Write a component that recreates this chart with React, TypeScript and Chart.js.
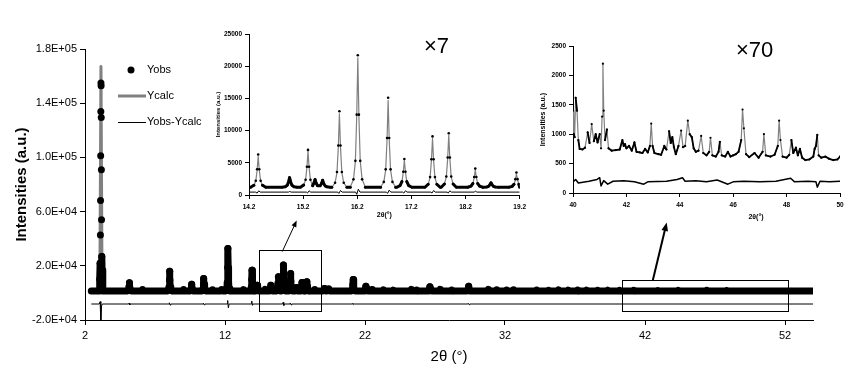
import { useEffect, useRef } from 'react';
import { Chart, registerables } from 'chart.js';

Chart.register(...registerables);

const FONT = "'Liberation Sans', Arial, Helvetica, sans-serif";
const GRAY = '#808080';
const HIDDEN = 'rgba(0,0,0,0)';

// ================= MAIN PATTERN =================
const mainXTicks = [2, 12, 22, 32, 42, 52];
const mainXTickLabels = ['2', '12', '22', '32', '42', '52'];
const mainYTicks = [-20000, 20000, 60000, 100000, 140000, 180000];
const mainYTickLabels = ['-2.0E+04', '2.0E+04', '6.0E+04', '1.0E+05', '1.4E+05', '1.8E+05'];
const mainXRange = [2, 54];
const mainYRange = [-20000, 180000];
const mainDataSpan = [2.45, 54.05];
const mainBaseline = 1400;

const mainPeakPos = [5.17, 6.1, 8.05, 9.02, 9.62, 10.48, 11.1, 11.76, 12.21, 13.3, 13.93, 14.3, 14.86, 15.28, 15.47, 15.81, 16.17, 16.69, 17.1, 17.5, 17.85, 18.4, 19.1, 19.4, 21.16, 22.07, 22.5, 23.3, 24.0, 25.3, 25.7, 26.64, 27.36, 28.2, 29.4, 30.8, 31.4, 32.1, 32.6, 34.26, 35.1, 35.8, 36.5, 37.2, 37.8, 38.6, 39.3, 40.2, 41.2, 42.9, 44.36, 46.4, 47.8];
const mainPeakObs = [7500, 2600, 16000, 2600, 6400, 10700, 2400, 2600, 32800, 2400, 16800, 5700, 2600, 5700, 2500, 11900, 20500, 14400, 4000, 7700, 8200, 2600, 3200, 3000, 9900, 5000, 2500, 2200, 2000, 2600, 2200, 4500, 2600, 2200, 5000, 2600, 2300, 2100, 2300, 2200, 2000, 2100, 2000, 2100, 2000, 2000, 1900, 1900, 2000, 1800, 1800, 1900, 1800];

// the strong low-angle reflection: individual observed points and calculated profile
const mainBigPeakObs = [[3.0, 1400], [3.05, 10100], [3.08, 21900], [3.1, 42800], [3.11, 68100], [3.12, 101200], [3.13, 133900], [3.14, 154900], [3.15, 152900], [3.16, 129500], [3.17, 90800], [3.18, 53900], [3.2, 26800], [3.22, 16900], [3.27, 1400]];
const mainBigPeakCalc = [[3.0, 1400], [3.07, 20000], [3.14, 167000], [3.21, 20000], [3.28, 1400]];

// difference curve (Yobs - Ycalc, shifted)
const mainDiff = [[2.45, -8200], [3.02, -8200], [3.08, -6400], [3.13, -21500], [3.18, -9600], [3.24, -8200],
  [5.12, -8200], [5.15, -7500], [5.2, -8900], [5.25, -8200],
  [8.0, -8200], [8.03, -7300], [8.08, -9000], [8.13, -8200],
  [10.43, -8200], [10.46, -7600], [10.51, -8800], [10.56, -8200],
  [12.16, -8200], [12.19, -5600], [12.24, -11000], [12.29, -8200],
  [13.88, -8200], [13.91, -6000], [13.96, -9200], [14.01, -8200],
  [16.12, -8200], [16.15, -7000], [16.2, -9300], [16.25, -8200],
  [16.64, -8200], [16.67, -7500], [16.72, -8900], [16.77, -8200],
  [21.11, -8200], [21.14, -7600], [21.19, -8700], [21.24, -8200],
  [29.35, -8200], [29.38, -7700], [29.43, -8700], [29.48, -8200],
  [54.05, -8200]];

// zoom boxes and arrows in data coordinates
const zoomBoxes = [
  { x: [14.4, 18.85], y: [-13400, 31700] },
  { x: [40.38, 52.24], y: [-13400, 9550] },
];
const zoomArrows = [
  { from: [16.09, 30500], to: [17.12, 53400], width: 1, head: 7 },
  { from: [42.55, 9000], to: [43.55, 51900], width: 2, head: 9 },
];

// ================= INSET 1 (14.2–19.2°) =================
const inset1XTicks = [14.2, 15.2, 16.2, 17.2, 18.2, 19.2];
const inset1XTickLabels = ['14.2', '15.2', '16.2', '17.2', '18.2', '19.2'];
const inset1YTicks = [0, 5000, 10000, 15000, 20000, 25000];
const inset1YTickLabels = ['0', '5000', '10000', '15000', '20000', '25000'];
const inset1Baseline = 1200;
const inset1Pos = [14.37, 14.95, 15.29, 15.42, 15.56, 15.87, 16.21, 16.77, 17.07, 17.59, 17.89, 18.38, 18.67, 19.14];
const inset1Obs = [6300, 2700, 7000, 2400, 2300, 13000, 21700, 15100, 5600, 9100, 9600, 4100, 1900, 3500];
const inset1Calc = [6000, 2600, 6800, 2300, 2200, 12600, 21300, 14700, 5400, 8800, 9300, 3900, 1800, 3300];
const inset1Diff = [[14.2, 450], [14.32, 450], [14.35, 300], [14.38, 650], [14.41, 450], [14.93, 450], [14.95, 550], [14.98, 450],
  [15.26, 450], [15.28, 300], [15.31, 650], [15.34, 450], [15.84, 450], [15.86, 250], [15.89, 700], [15.92, 450],
  [16.17, 450], [16.19, 100], [16.22, 900], [16.25, 450], [16.74, 450], [16.76, 250], [16.79, 750], [16.82, 450],
  [17.04, 450], [17.06, 300], [17.09, 650], [17.12, 450], [17.56, 450], [17.58, 300], [17.61, 700], [17.64, 450],
  [17.86, 450], [17.88, 300], [17.91, 650], [17.94, 450], [18.36, 450], [18.38, 600], [18.41, 450], [19.2, 450]];

// ================= INSET 2 (40–50°) =================
const inset2XTicks = [40, 42, 44, 46, 48, 50];
const inset2XTickLabels = ['40', '42', '44', '46', '48', '50'];
const inset2YTicks = [0, 500, 1000, 1500, 2000, 2500];
const inset2YTickLabels = ['0', '500', '1000', '1500', '2000', '2500'];
const inset2Obs = [[40.0, 1400], [40.03, 1000], [40.06, 950], [40.1, 1620], [40.15, 1400], [40.2, 900], [40.25, 750], [40.35, 740], [40.45, 770], [40.55, 1030], [40.62, 850], [40.7, 1170], [40.78, 880], [40.85, 1000], [40.92, 860], [41.0, 1000], [41.05, 760], [41.09, 1300], [41.12, 2200], [41.15, 1400], [41.2, 900], [41.27, 1080], [41.33, 760], [41.45, 720], [41.6, 730], [41.75, 740], [41.85, 900], [41.9, 800], [41.95, 830], [42.0, 760], [42.1, 800], [42.2, 720], [42.3, 860], [42.38, 700], [42.5, 690], [42.6, 680], [42.7, 750], [42.8, 690], [42.88, 800], [42.93, 1180], [42.98, 800], [43.05, 680], [43.2, 660], [43.3, 650], [43.42, 800], [43.5, 740], [43.6, 1050], [43.66, 850], [43.72, 950], [43.78, 780], [43.85, 660], [43.95, 800], [44.05, 1060], [44.12, 780], [44.2, 800], [44.3, 1230], [44.37, 1000], [44.45, 950], [44.52, 760], [44.6, 700], [44.7, 720], [44.8, 970], [44.88, 680], [45.0, 640], [45.1, 700], [45.15, 940], [45.22, 640], [45.35, 620], [45.45, 700], [45.5, 870], [45.57, 640], [45.7, 620], [45.8, 700], [45.9, 620], [46.0, 640], [46.1, 660], [46.2, 700], [46.3, 900], [46.35, 1420], [46.4, 1100], [46.48, 660], [46.6, 610], [46.8, 680], [46.95, 600], [47.1, 700], [47.15, 1000], [47.22, 640], [47.4, 620], [47.55, 650], [47.67, 800], [47.72, 1230], [47.77, 900], [47.85, 620], [48.0, 600], [48.1, 650], [48.18, 900], [48.25, 680], [48.35, 770], [48.42, 640], [48.5, 750], [48.58, 600], [48.7, 560], [48.85, 570], [49.0, 620], [49.05, 750], [49.1, 800], [49.15, 990], [49.2, 640], [49.3, 600], [49.45, 620], [49.6, 580], [49.75, 560], [49.9, 570], [50.0, 620]];
const inset2Calc = inset2Obs;
const inset2Diff = [[40, 190], [40.1, 230], [40.2, 170], [40.6, 200], [40.9, 230], [41.0, 260], [41.05, 120], [41.15, 210], [41.3, 150], [41.5, 200], [41.9, 210], [42.3, 190], [42.65, 150], [42.8, 190], [43.5, 200], [43.9, 230], [44.1, 260], [44.2, 200], [44.6, 210], [45.0, 190], [45.4, 220], [45.8, 150], [46.0, 190], [46.4, 200], [47.0, 190], [47.6, 200], [48.15, 250], [48.3, 190], [48.8, 200], [49.1, 190], [49.15, 100], [49.25, 200], [49.6, 190], [50, 200]];

// ================= helpers =================
type XY = { x: number; y: number };
const PROFILE_OFFSETS = [-0.14, -0.08, -0.045, -0.02, 0, 0.02, 0.045, 0.08, 0.14];
const PROFILE_SHARES = [0, 0.06, 0.2, 0.55, 1, 0.55, 0.2, 0.06, 0];

function pattern(span: number[], base: number, pos: number[], heights: number[], extra: number[][] = []): XY[] {
  const pts: XY[] = [];
  pos.forEach((p, i) => {
    PROFILE_OFFSETS.forEach((o, k) => {
      const x = +(p + o).toFixed(4);
      // keep only the part of each profile that is nearer to its own peak than to a neighbour
      if (pos.some((q, j) => j !== i && Math.abs(x - q) < Math.abs(x - p))) return;
      pts.push({ x, y: base + PROFILE_SHARES[k] * (heights[i] - base) });
    });
  });
  extra.forEach(([x, y]) => pts.push({ x, y }));
  pts.push({ x: span[0], y: base }, { x: span[1], y: base });
  return pts.sort((a, b) => a.x - b.x);
}
const pairs = (arr: number[][]): XY[] => arr.map(([x, y]) => ({ x, y }));

function linearAxis(o: any) {
  return {
    type: 'linear',
    position: o.horizontal ? 'bottom' : 'left',
    min: o.min,
    max: o.max,
    afterBuildTicks: (s: any) => {
      s.ticks = o.ticks.map((value: number) => ({ value }));
    },
    afterFit: (s: any) => {
      if (o.horizontal) s.height = o.extent;
      else s.width = o.extent;
    },
    ticks: {
      autoSkip: false,
      maxRotation: 0,
      minRotation: 0,
      color: '#000',
      font: o.tickFont,
      padding: o.tickPadding,
      callback: (_v: any, i: number) => o.labels[i],
    },
    grid: { drawOnChartArea: false, drawTicks: true, tickLength: o.tickLength, color: '#000', lineWidth: 1 },
    border: { display: true, color: '#000', width: 1 },
    title: o.title
      ? { display: true, text: o.title.text, color: '#000', font: o.title.font, padding: o.title.padding }
      : { display: false },
  };
}

function drawArrow(ctx: CanvasRenderingContext2D, x0: number, y0: number, x1: number, y1: number, w: number, head: number) {
  const ang = Math.atan2(y1 - y0, x1 - x0);
  ctx.lineWidth = w;
  ctx.beginPath();
  ctx.moveTo(x0, y0);
  ctx.lineTo(x1 - Math.cos(ang) * head * 0.6, y1 - Math.sin(ang) * head * 0.6);
  ctx.stroke();
  ctx.beginPath();
  ctx.moveTo(x1, y1);
  ctx.lineTo(x1 - head * Math.cos(ang - 0.38), y1 - head * Math.sin(ang - 0.38));
  ctx.lineTo(x1 - head * Math.cos(ang + 0.38), y1 - head * Math.sin(ang + 0.38));
  ctx.closePath();
  ctx.fill();
}

const mainDecor = {
  id: 'mainDecor',
  afterDatasetsDraw(chart: any) {
    const { ctx, scales } = chart;
    const px = (v: number) => scales.x.getPixelForValue(v);
    const py = (v: number) => scales.y.getPixelForValue(v);
    ctx.save();
    ctx.strokeStyle = '#000';
    ctx.fillStyle = '#000';
    ctx.lineWidth = 1;
    zoomBoxes.forEach((b) => {
      const x0 = Math.round(px(b.x[0])) + 0.5;
      const x1 = Math.round(px(b.x[1])) + 0.5;
      const y0 = Math.round(py(b.y[1])) + 0.5;
      const y1 = Math.round(py(b.y[0])) + 0.5;
      ctx.strokeRect(x0, y0, x1 - x0, y1 - y0);
    });
    zoomArrows.forEach((a) => {
      drawArrow(ctx, px(a.from[0]), py(a.from[1]), px(a.to[0]), py(a.to[1]), a.width, a.head);
    });
    // legend
    const ds = chart.data.datasets;
    const rows = [70, 96, 122];
    ctx.font = `11px ${FONT}`;
    ctx.textBaseline = 'middle';
    ctx.textAlign = 'left';
    ctx.beginPath();
    ctx.arc(131, rows[0], 3.5, 0, Math.PI * 2);
    ctx.fill();
    ctx.fillText(ds[0].label, 147, rows[0]);
    ctx.strokeStyle = GRAY;
    ctx.lineWidth = 3;
    ctx.beginPath();
    ctx.moveTo(118, rows[1]);
    ctx.lineTo(146, rows[1]);
    ctx.stroke();
    ctx.fillText(ds[1].label, 147, rows[1]);
    ctx.strokeStyle = '#000';
    ctx.lineWidth = 1;
    ctx.beginPath();
    ctx.moveTo(118, rows[2] + 0.5);
    ctx.lineTo(146, rows[2] + 0.5);
    ctx.stroke();
    ctx.fillText(ds[2].label, 147, rows[2]);
    ctx.restore();
  },
};

function insetDecor(factor: string, fx: number, fy: number, xTitle?: { text: string; x: number; y: number }) {
  return {
    id: 'insetDecor',
    afterDraw(chart: any) {
      const { ctx } = chart;
      ctx.save();
      ctx.fillStyle = '#000';
      ctx.font = `22px ${FONT}`;
      ctx.textBaseline = 'alphabetic';
      ctx.textAlign = 'left';
      ctx.fillText(factor, fx, fy);
      if (xTitle) {
        ctx.font = `bold 7px ${FONT}`;
        ctx.textAlign = 'center';
        ctx.textBaseline = 'middle';
        ctx.fillText(xTitle.text, xTitle.x, xTitle.y);
      }
      ctx.restore();
    },
  };
}

const baseOptions = (padding: any) => ({
  animation: false,
  responsive: false,
  devicePixelRatio: 1,
  layout: { padding },
  plugins: { legend: { display: false }, tooltip: { enabled: false } },
  events: [],
});

function mainConfig(): any {
  const obs = pattern(mainDataSpan, mainBaseline, mainPeakPos, mainPeakObs, mainBigPeakObs);
  const calc = pattern(mainDataSpan, mainBaseline, mainPeakPos, mainPeakObs, mainBigPeakCalc);
  return {
    type: 'scatter',
    data: {
      datasets: [
        {
          label: 'Yobs',
          data: obs,
          showLine: true,
          borderColor: '#000',
          borderWidth: 7,
          borderCapStyle: 'round',
          borderJoinStyle: 'round',
          pointBackgroundColor: '#000',
          pointBorderWidth: 0,
          pointRadius: (c: any) => (c.raw && c.raw.y > 3000 ? 3.5 : 0),
          segment: {
            borderColor: (c: any) => (Math.max(c.p0.parsed.y, c.p1.parsed.y) > 40000 ? HIDDEN : undefined),
          },
        },
        {
          label: 'Ycalc',
          data: calc,
          showLine: true,
          borderColor: GRAY,
          borderWidth: 3,
          borderJoinStyle: 'round',
          pointRadius: 0,
        },
        {
          label: 'Yobs-Ycalc',
          data: pairs(mainDiff),
          showLine: true,
          borderColor: '#000',
          borderWidth: 1,
          borderJoinStyle: 'round',
          pointRadius: 0,
        },
      ],
    },
    options: {
      ...baseOptions({ left: 0, top: 49, right: 52, bottom: 0 }),
      scales: {
        x: linearAxis({
          horizontal: true, min: mainXRange[0], max: mainXRange[1], ticks: mainXTicks, labels: mainXTickLabels,
          extent: 64, tickLength: 5, tickPadding: 4.5, tickFont: { family: FONT, size: 11 },
          title: { text: '2θ (°)', font: { family: FONT, size: 15 }, padding: { top: 0, bottom: 18 } },
        }),
        y: linearAxis({
          horizontal: false, min: mainYRange[0], max: mainYRange[1], ticks: mainYTicks, labels: mainYTickLabels,
          extent: 85, tickLength: 5, tickPadding: 3, tickFont: { family: FONT, size: 11 },
          title: { text: 'Intensities (a.u.)', font: { family: FONT, size: 15, weight: 'bold' }, padding: { top: 13, bottom: 0 } },
        }),
      },
    },
    plugins: [mainDecor],
  };
}

function insetConfig(o: any): any {
  return {
    type: 'scatter',
    data: {
      datasets: [
        {
          label: 'Yobs',
          data: o.obs,
          showLine: true,
          borderColor: '#000',
          borderWidth: o.obsWidth,
          borderJoinStyle: 'round',
          borderCapStyle: 'round',
          pointBackgroundColor: '#000',
          pointBorderWidth: 0,
          pointRadius: o.dot,
          segment: {
            borderColor: (c: any) => (Math.abs(c.p1.parsed.y - c.p0.parsed.y) > o.steep ? HIDDEN : undefined),
          },
        },
        { label: 'Ycalc', data: o.calc, showLine: true, borderColor: GRAY, borderWidth: 1.2, borderJoinStyle: 'round', pointRadius: 0 },
        { label: 'Yobs-Ycalc', data: o.diff, showLine: true, borderColor: '#000', borderWidth: o.diffWidth, borderJoinStyle: 'round', pointRadius: 0 },
      ],
    },
    options: {
      ...baseOptions(o.padding),
      scales: {
        x: linearAxis({
          horizontal: true, min: o.xTicks[0], max: o.xTicks[o.xTicks.length - 1], ticks: o.xTicks, labels: o.xLabels,
          extent: o.xExtent, tickLength: 4, tickPadding: o.xPad, tickFont: { family: FONT, size: o.tickSize, weight: 'bold' },
          title: o.xTitle,
        }),
        y: linearAxis({
          horizontal: false, min: o.yTicks[0], max: o.yTicks[o.yTicks.length - 1], ticks: o.yTicks, labels: o.yLabels,
          extent: o.yExtent, tickLength: 4, tickPadding: 3, tickFont: { family: FONT, size: o.tickSize, weight: 'bold' },
          title: o.yTitle,
        }),
      },
    },
    plugins: [o.decor],
  };
}

export default function App() {
  const mainRef = useRef<HTMLCanvasElement>(null);
  const in1Ref = useRef<HTMLCanvasElement>(null);
  const in2Ref = useRef<HTMLCanvasElement>(null);

  useEffect(() => {
    const charts: Chart[] = [];
    charts.push(new Chart(mainRef.current as HTMLCanvasElement, mainConfig()));
    charts.push(
      new Chart(
        in1Ref.current as HTMLCanvasElement,
        insetConfig({
          obs: pattern([14.2, 19.2], inset1Baseline, inset1Pos, inset1Obs),
          calc: pattern([14.2, 19.2], inset1Baseline, inset1Pos, inset1Calc),
          diff: pairs(inset1Diff),
          obsWidth: 3, dot: 1.3, steep: 700, diffWidth: 1,
          padding: { left: 0, top: 14, right: 9, bottom: 0 },
          xTicks: inset1XTicks, xLabels: inset1XTickLabels, yTicks: inset1YTicks, yLabels: inset1YTickLabels,
          xExtent: 30, yExtent: 49, xPad: 4, tickSize: 6.5,
          xTitle: { text: '2θ(°)', font: { family: FONT, size: 7, weight: 'bold' }, padding: { top: 0, bottom: 5.8 } },
          yTitle: { text: 'Intensities (a.u.)', font: { family: FONT, size: 6, weight: 'bold' }, padding: { top: 14.4, bottom: 0 } },
          decor: insetDecor('×7', 224, 33),
        })
      )
    );
    charts.push(
      new Chart(
        in2Ref.current as HTMLCanvasElement,
        insetConfig({
          obs: pairs(inset2Obs),
          calc: pairs(inset2Calc),
          diff: pairs(inset2Diff),
          obsWidth: 1.8, dot: 1.1, steep: 220, diffWidth: 1.5,
          padding: { left: 0, top: 18, right: 25, bottom: 0 },
          xTicks: inset2XTicks, xLabels: inset2XTickLabels, yTicks: inset2YTicks, yLabels: inset2YTickLabels,
          xExtent: 32, yExtent: 43, xPad: 4.5, tickSize: 6.5,
          xTitle: null,
          yTitle: { text: 'Intensities (a.u.)', font: { family: FONT, size: 7, weight: 'bold' }, padding: { top: 9, bottom: 0 } },
          decor: insetDecor('×70', 206, 29, { text: '2θ(°)', x: 226, y: 189 }),
        })
      )
    );
    return () => charts.forEach((c) => c.destroy());
  }, []);

  return (
    <div style={{ position: 'absolute', left: 0, top: 0, width: 865, height: 384, background: '#fff', overflow: 'hidden' }}>
      <canvas ref={mainRef} width={865} height={384} style={{ position: 'absolute', left: 0, top: 0, width: 865, height: 384 }} />
      <canvas ref={in1Ref} width={330} height={205} style={{ position: 'absolute', left: 200, top: 20, width: 330, height: 205 }} />
      <canvas ref={in2Ref} width={335} height={197} style={{ position: 'absolute', left: 530, top: 28, width: 335, height: 197 }} />
    </div>
  );
}
